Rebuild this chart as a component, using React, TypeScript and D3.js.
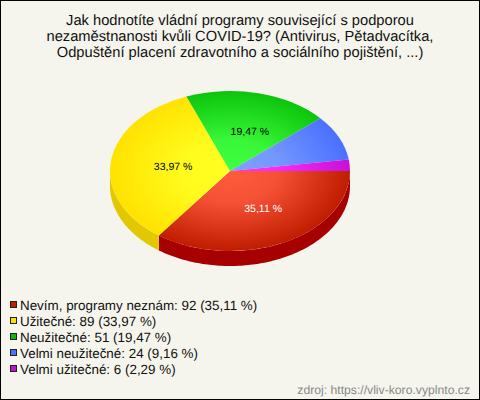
import { useEffect } from 'react';
import * as d3 from 'd3';

const categories = ['Nevím, programy neznám', 'Užitečné', 'Neužitečné', 'Velmi neužitečné', 'Velmi užitečné'];
const counts = [92, 89, 51, 24, 6];
const percents = ['35,11', '33,97', '19,47', '9,16', '2,29'];
const shownLabels = [true, true, true, false, false];
const labelColors = ['#ffffff', '#000000', '#000000', '#000000', '#000000'];
const innerColors = ['#ff5c3e', '#ffff22', '#40ff40', '#7d9fff', '#ff30ff'];
const outerColors = ['#bf1c00', '#ffe200', '#0cc40c', '#4a70ff', '#c810d8'];
const sideColors = ['#a60000', '#e2c800', '#0a9a0a', '#3a58c8', '#a010b0'];
const legendColors = ['#bf2000', '#ffe000', '#0cb80c', '#4a70ff', '#c010d0'];
const titleLines = [
  'Jak hodnotíte vládní programy související s podporou',
  'nezaměstnanosti kvůli COVID-19? (Antivirus, Pětadvacítka,',
  'Odpuštění placení zdravotního a sociálního pojištění, ...)',
];
const source = 'zdroj: https://vliv-koro.vyplnto.cz';

const width = 480;
const height = 400;
const font = '"Liberation Sans", Arial, sans-serif';
const cx = 230;
const cy = 171;
const rx = 120;
const ry = 80;
const depth = 15;

const App = () => {
  useEffect(() => {
    document.body.style.margin = '0';
  }, []);

  // 3 o'clock start, clockwise
  const pie = d3
    .pie<number>()
    .sort(null)
    .startAngle(Math.PI / 2)
    .endAngle(Math.PI / 2 + 2 * Math.PI);
  const slices = pie(counts);

  const arc = d3.arc<d3.PieArcDatum<number>>().innerRadius(0).outerRadius(rx);
  const labelArc = d3.arc<d3.PieArcDatum<number>>().innerRadius(rx * 0.52).outerRadius(rx * 0.52);

  // side wall, only the front half of the ellipse can be seen
  const side = d3
    .area<number>()
    .x((a) => cx + rx * Math.sin(a))
    .y0((a) => cy - ry * Math.cos(a))
    .y1((a) => cy - ry * Math.cos(a) + depth);

  const sideAngles = (d: d3.PieArcDatum<number>) => {
    const from = Math.max(d.startAngle, Math.PI / 2);
    const to = Math.min(d.endAngle, (3 * Math.PI) / 2);
    if (to <= from) return [];
    return [...d3.range(from, to, 0.02), to];
  };

  const legendY = d3
    .scalePoint<number>()
    .domain(d3.range(categories.length))
    .range([306, 370]);

  return (
    <svg
      width={width}
      height={height}
      style={{ display: 'block' }}
      fontFamily={font}
      textRendering="geometricPrecision"
    >
      <defs>
        {slices.map((_, i) => (
          <radialGradient key={i} id={`slice-${i}`} gradientUnits="userSpaceOnUse" cx={0} cy={0} r={rx}>
            <stop offset="0" stopColor={innerColors[i]} />
            <stop offset="0.4" stopColor={d3.interpolateRgb(innerColors[i], outerColors[i])(0.15)} />
            <stop offset="1" stopColor={outerColors[i]} />
          </radialGradient>
        ))}
      </defs>
      <rect x={0.5} y={0.5} width={width - 1} height={height - 1} fill="#f5f5ed" stroke="#000000" />

      {titleLines.map((line, i) => (
        <text key={i} x={width / 2} y={25 + i * 16} textAnchor="middle" fontSize={14.7} fill="#111111">
          {line}
        </text>
      ))}

      {slices.map((d, i) => (
        <path key={i} d={side(sideAngles(d)) ?? ''} fill={sideColors[i]} />
      ))}
      <g transform={`translate(${cx},${cy}) scale(1,${ry / rx})`}>
        {slices.map((d, i) => (
          <path key={i} d={arc(d) ?? ''} fill={`url(#slice-${i})`} />
        ))}
      </g>
      {slices.map((d, i) => {
        if (!shownLabels[i]) return null;
        const [x, y] = labelArc.centroid(d);
        return (
          <text
            key={i}
            x={cx + x + 5}
            y={cy + y * (ry / rx) + 4}
            textAnchor="middle"
            fontSize={10.5}
            fill={labelColors[i]}
          >
            {percents[i]} %
          </text>
        );
      })}

      {categories.map((c, i) => (
        <g key={c}>
          <rect
            x={10.5}
            y={(legendY(i) as number) - 4.5}
            width={6}
            height={6}
            fill={legendColors[i]}
            stroke="#222222"
          />
          <text x={20} y={(legendY(i) as number) + 4} fontSize={13.4} fill="#111111">
            {c}: {counts[i]} ({percents[i]} %)
          </text>
        </g>
      ))}

      <text x={470} y={394} textAnchor="end" fontSize={12.2} fill="#888888">
        {source}
      </text>
    </svg>
  );
};

export default App;
